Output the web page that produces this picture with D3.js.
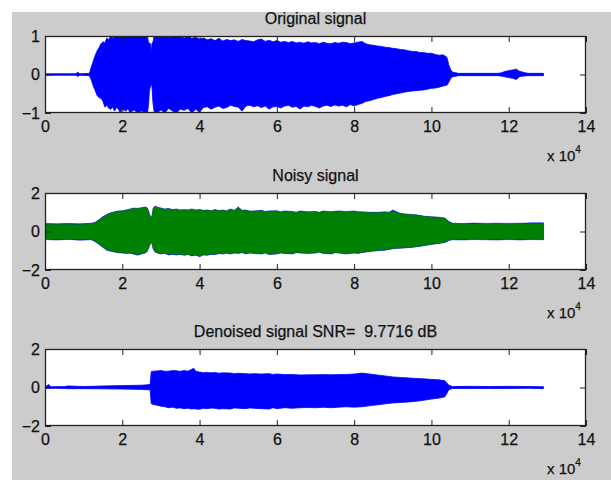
<!DOCTYPE html>
<html>
<head>
<meta charset="utf-8">
<script src="https://cdn.jsdelivr.net/npm/d3@7"></script>
<style>
  html, body { margin: 0; padding: 0; background: #ffffff; }
  svg { display: block; }
  text { font-family: "Liberation Sans", Arial, sans-serif; fill: #111111; stroke: #111111; stroke-width: 0.25px; }
</style>
</head>
<body>
<svg id="chart" width="611" height="480"></svg>
<script>
// ---------------- DATA (envelopes of the waveforms) ----------------
const xTickValues = [0, 20000, 40000, 60000, 80000, 100000, 120000, 140000];
const xTickLabels = ["0", "2", "4", "6", "8", "10", "12", "14"];
const yTicksOriginal = [-1, 0, 1];
const yTicksNoisy = [-2, 0, 2];
const yTicksDenoised = [-2, 0, 2];
const titles = ["Original signal", "Noisy signal", "Denoised signal SNR=  9.7716 dB"];

// Original signal envelope: [sample, upper, lower]
const originalEnvelope = [
  [0, .02, -.02], [8000, .02, -.02], [8500, .06, -.05], [9000, .02, -.02], [11500, .03, -.03],
  [12000, .2, -.15], [12500, .35, -.3], [13000, .5, -.42], [13500, .62, -.55], [14000, .7, -.6],
  [14500, .8, -.62], [15000, .85, -.7], [15500, .82, -.85], [16000, .95, -.8], [16500, .9, -.88],
  [17000, 1, -.9], [17500, .95, -.85], [18000, 1, -.95], [18500, 1, -.86], [19000, 1, -.9],
  [19500, 1, -1], [20000, 1, -.9], [21000, 1, -.95], [21500, 1, -.88], [22000, 1, -1],
  [23000, 1, -.92], [24000, 1, -1], [25000, 1, -.95], [26000, 1, -1], [26500, 1, -1],
  [26800, .82, -.8], [27000, .82, -.45], [27300, .8, -.3], [27500, .58, -.22], [27700, .82, -.35],
  [27900, .82, -.7], [28200, 1, -.95], [28500, 1, -1],
  [29000, 1.0, -1.0], [30000, .97, -.92], [31000, 1.0, -1.0], [32000, .96, -.88], [33000, 1.0, -.95],
  [34000, .98, -1.0], [35000, 1.0, -.9], [36000, .95, -.93], [37000, 1.0, -.88], [38000, .94, -1.0],
  [39000, .97, -.9], [40000, .92, -.98], [41000, .95, -.86], [42000, .9, -.84], [43000, .93, -.9],
  [44000, .88, -.85], [45000, .94, -.82], [46000, .87, -.88], [47000, .91, -.86], [48000, .88, -.8],
  [49000, .9, -.83], [50000, .86, -.85], [51000, .91, -.95], [52000, .88, -.82], [53000, .87, -.8],
  [54000, .85, -.84], [55000, .9, -.81], [56000, .92, -.86], [57000, .86, -.82], [58000, .89, -.9],
  [59000, .85, -.84], [60000, .88, -.83], [61000, .84, -.87], [62000, .86, -.82], [63000, .83, -.8],
  [64000, .86, -.85], [65000, .82, -.83], [66000, .84, -.9], [67000, .81, -.82], [68000, .85, -.84],
  [69000, .82, -.8], [70000, .83, -.83], [71000, .8, -.87], [72000, .84, -.82], [73000, .81, -.8],
  [74000, .8, -.83], [75000, .83, -.79], [76000, .81, -.82], [77000, .84, -.8], [78000, .83, -.84],
  [79000, .8, -.78], [80000, .82, -.82], [81000, .84, -.78], [82000, .86, -.75], [83000, .8, -.7],
  [84000, .77, -.68], [85000, .76, -.65], [86000, .74, -.62], [87000, .73, -.6], [88000, .71, -.57],
  [89000, .7, -.55], [90000, .68, -.52], [91000, .67, -.5], [92000, .65, -.48], [93000, .64, -.46],
  [94000, .62, -.44], [95000, .6, -.43], [96000, .6, -.42], [97000, .57, -.41], [98000, .57, -.4],
  [99000, .55, -.38], [100000, .55, -.36], [101000, .52, -.35], [102000, .5, -.33], [103000, .51, -.3],
  [104000, .45, -.28], [104500, .25, -.2], [105000, .12, -.1], [105500, .06, -.06], [107000, .03, -.03],
  [117000, .03, -.03], [118000, .04, -.04], [119000, .08, -.06], [120000, .1, -.08], [121000, .12, -.1],
  [122000, .14, -.13], [122500, .1, -.08], [123000, .08, -.05], [124000, .05, -.04], [125000, .03, -.03],
  [129000, .03, -.03]
];

// Noisy signal envelopes: [sample, greenUpper, greenLower, blueUpper, blueLower]
const noisyEnvelope = [
  [0, .38, -.38, .42, -.42], [3000, .36, -.4, .40, -.44], [6000, .38, -.38, .42, -.41], [9000, .37, -.4, .40, -.45],
  [12000, .4, -.4, .43, -.43], [13000, .45, -.5, .48, -.53], [14000, .6, -.65, .62, -.68], [15000, .75, -.8, .78, -.83],
  [16000, .85, -.95, .88, -.98], [17000, .95, -1.0, .97, -1.03], [18000, 1.0, -1.05, 1.03, -1.07], [19000, 1.05, -1.08, 1.07, -1.11],
  [20000, 1.05, -1.1, 1.08, -1.12], [21000, 1.1, -1.12, 1.12, -1.14], [22000, 1.15, -1.1, 1.17, -1.13], [23000, 1.2, -1.15, 1.22, -1.18],
  [24000, 1.18, -1.2, 1.2, -1.23], [25000, 1.22, -1.15, 1.24, -1.17], [26000, 1.25, -1.1, 1.27, -1.12], [26500, 1.2, -1.0, 1.22, -1.02],
  [27000, .9, -.75, .92, -.77], [27500, .65, -.5, .67, -.52], [27800, .9, -.7, .92, -.72], [28000, 1.2, -.9, 1.22, -.92],
  [28500, 1.3, -1.05, 1.32, -1.07], [29000, 1.25, -1.1, 1.27, -1.12], [30000, 1.2, -1.15, 1.22, -1.17], [31000, 1.15, -1.12, 1.17, -1.14],
  [32000, 1.18, -1.2, 1.2, -1.22], [33000, 1.12, -1.15, 1.14, -1.19], [34000, 1.15, -1.2, 1.17, -1.22], [35000, 1.1, -1.17, 1.12, -1.19],
  [36000, 1.12, -1.22, 1.14, -1.24], [37000, 1.1, -1.18, 1.12, -1.2], [38000, 1.15, -1.25, 1.17, -1.27], [39000, 1.1, -1.2, 1.12, -1.23],
  [40000, 1.12, -1.28, 1.14, -1.31], [41000, 1.08, -1.2, 1.1, -1.22], [42000, 1.1, -1.22, 1.12, -1.24], [43000, 1.06, -1.16, 1.08, -1.19],
  [44000, 1.12, -1.18, 1.14, -1.2], [45000, 1.07, -1.13, 1.09, -1.15], [46000, 1.1, -1.15, 1.12, -1.17], [47000, 1.06, -1.1, 1.08, -1.13],
  [48000, 1.15, -1.15, 1.17, -1.17], [49000, 1.08, -1.1, 1.1, -1.12], [50000, 1.25, -1.12, 1.27, -1.14], [51000, 1.08, -1.08, 1.1, -1.1],
  [52000, 1.1, -1.15, 1.12, -1.17], [53000, 1.04, -1.1, 1.06, -1.12], [54000, 1.05, -1.12, 1.07, -1.14], [56000, 1.08, -1.15, 1.1, -1.17],
  [57000, 1.02, -1.1, 1.04, -1.12], [58000, 1.05, -1.18, 1.07, -1.2], [60000, 1.06, -1.15, 1.08, -1.17], [61000, 1.0, -1.1, 1.02, -1.12],
  [62000, 1.05, -1.12, 1.07, -1.14], [64000, 1.02, -1.15, 1.04, -1.17], [65000, .98, -1.08, 1.0, -1.1], [66000, 1.05, -1.1, 1.07, -1.12],
  [68000, 1.0, -1.12, 1.02, -1.14], [70000, 1.02, -1.1, 1.04, -1.12], [71000, .98, -1.06, 1.0, -1.08], [72000, 1.05, -1.12, 1.07, -1.14],
  [74000, 1.0, -1.15, 1.02, -1.17], [75000, 1.03, -1.08, 1.05, -1.1], [76000, 1.05, -1.1, 1.07, -1.12], [78000, 1.02, -1.15, 1.04, -1.17],
  [80000, 1.05, -1.1, 1.07, -1.12], [81000, 1.0, -1.12, 1.02, -1.14], [82000, 1.0, -1.08, 1.02, -1.1], [84000, .98, -1.02, 1.0, -1.04],
  [86000, .98, -.98, 1.0, -1.0], [88000, 1.0, -.95, 1.02, -.97], [89000, .98, -.92, 1.0, -.94], [90000, 1.05, -.88, 1.12, -.9],
  [92000, .92, -.85, .94, -.87], [94000, .88, -.82, .9, -.84], [96000, .85, -.78, .87, -.8], [98000, .78, -.72, .8, -.74],
  [100000, .75, -.65, .77, -.67], [102000, .72, -.6, .74, -.62], [103500, .68, -.55, .7, -.57], [104500, .5, -.45, .52, -.47],
  [105500, .4, -.4, .43, -.43], [108000, .38, -.4, .41, -.44], [111000, .4, -.38, .44, -.42], [114000, .38, -.4, .42, -.43],
  [117000, .4, -.4, .43, -.44], [120000, .38, -.38, .42, -.42], [123000, .4, -.4, .43, -.44], [126000, .42, -.38, .45, -.42],
  [129000, .42, -.4, .45, -.43]
];

// Denoised signal envelope: [sample, upper, lower]
const denoisedEnvelope = [
  [0, .04, -.04], [1000, .15, -.05], [1500, .04, -.04], [5000, .05, -.05], [6000, .08, -.06], [10000, .05, -.06],
  [15000, .08, -.07], [20000, .1, -.08], [25000, .12, -.1], [27200, .15, -.12], [27500, .83, -.85], [28000, .85, -.88],
  [29000, .86, -.92], [30000, .88, -.97], [31000, .84, -1.0], [32000, .85, -1.05], [33000, .88, -1.02], [34000, .87, -1.08],
  [35000, .84, -1.06], [36000, .88, -1.1], [37000, .85, -1.08], [38000, .95, -1.12], [38500, 1.0, -1.1], [39000, .85, -1.12],
  [40000, .8, -1.13], [41000, .77, -1.08], [42000, .78, -1.1], [43000, .76, -1.07], [44000, .78, -1.08], [45000, .74, -1.12],
  [46000, .76, -1.1], [48000, .75, -1.12], [49000, .72, -1.06], [50000, .74, -1.08], [52000, .72, -1.1], [53000, .7, -1.06],
  [54000, .72, -1.08], [56000, .7, -1.1], [58000, .72, -1.12], [59000, .68, -1.05], [60000, .7, -1.1], [62000, .67, -1.05],
  [64000, .68, -1.08], [66000, .65, -1.05], [68000, .66, -1.04], [70000, .66, -1.05], [72000, .67, -1.03], [74000, .66, -1.05],
  [76000, .67, -1.02], [78000, .68, -1.0], [80000, .7, -1.02], [82000, .75, -1.0], [84000, .7, -.95], [86000, .65, -.9],
  [88000, .6, -.85], [90000, .55, -.8], [92000, .52, -.78], [94000, .5, -.75], [96000, .47, -.72], [98000, .45, -.66],
  [100000, .42, -.6], [102000, .4, -.55], [103500, .35, -.48], [104500, .12, -.12], [105500, .05, -.05], [110000, .06, -.05],
  [115000, .05, -.05], [120000, .06, -.05], [125000, .05, -.04], [129000, .04, -.06]
];

// ---------------- DRAWING ----------------
const svg = d3.select("#chart");
const W = 611, H = 480;
const FONT = 16;

svg.append("rect").attr("x", 12).attr("y", 12).attr("width", W - 12).attr("height", H - 12).attr("fill", "#cccccc");

const left = 45, right = 586;
const panels = [
  { top: 36, bottom: 113, yDomain: [-1, 1], yTicks: yTicksOriginal, title: titles[0],
    layers: [{ data: originalEnvelope, up: 1, lo: 2, color: "#0000ff", sw: 0.8 }] },
  { top: 193, bottom: 270, yDomain: [-2, 2], yTicks: yTicksNoisy, title: titles[1],
    layers: [{ data: noisyEnvelope, up: 3, lo: 4, color: "#0000ff", sw: 0.5 },
             { data: noisyEnvelope, up: 1, lo: 2, color: "#008000", sw: 0.6 }] },
  { top: 349, bottom: 426, yDomain: [-2, 2], yTicks: yTicksDenoised, title: titles[2],
    layers: [{ data: denoisedEnvelope, up: 1, lo: 2, color: "#0000ff", sw: 0.8 }] }
];

const x = d3.scaleLinear().domain([0, 140000]).range([left, right]);

panels.forEach((p, i) => {
  const y = d3.scaleLinear().domain(p.yDomain).range([p.bottom, p.top]);
  const g = svg.append("g");

  g.append("rect").attr("x", left).attr("y", p.top)
    .attr("width", right - left).attr("height", p.bottom - p.top).attr("fill", "#ffffff");

  const clipId = "clip" + i;
  svg.append("clipPath").attr("id", clipId).append("rect")
    .attr("x", left).attr("y", p.top).attr("width", right - left).attr("height", p.bottom - p.top);

  p.layers.forEach(L => {
    const area = d3.area().x(d => x(d[0])).y0(d => y(d[L.lo])).y1(d => y(d[L.up])).curve(d3.curveLinear);
    g.append("path").datum(L.data).attr("d", area)
      .attr("fill", L.color).attr("stroke", L.color).attr("stroke-width", L.sw)
      .attr("clip-path", `url(#${clipId})`);
  });

  const bottomAxis = d3.axisBottom(x).tickValues(xTickValues)
    .tickFormat((d, k) => xTickLabels[k]).tickSize(-6).tickPadding(8);
  const topAxis = d3.axisTop(x).tickValues(xTickValues).tickFormat("").tickSize(-6);
  const leftAxis = d3.axisLeft(y).tickValues(p.yTicks).tickFormat(d3.format("d")).tickSize(-6).tickPadding(5);
  const rightAxis = d3.axisRight(y).tickValues(p.yTicks).tickFormat("").tickSize(-6);

  const styleAxis = sel => {
    sel.select(".domain").remove();
    sel.selectAll("line").attr("stroke", "#222222").attr("stroke-width", 1);
    sel.selectAll("text").attr("font-size", FONT).attr("fill", "#111111")
      .attr("font-family", '"Liberation Sans", Arial, sans-serif');
  };
  g.append("g").attr("transform", `translate(0,${p.bottom})`).call(bottomAxis).call(styleAxis);
  g.append("g").attr("transform", `translate(0,${p.top})`).call(topAxis).call(styleAxis);
  g.append("g").attr("transform", `translate(${left},0)`).call(leftAxis).call(styleAxis);
  g.append("g").attr("transform", `translate(${right},0)`).call(rightAxis).call(styleAxis);

  g.append("rect").attr("x", left + 0.5).attr("y", p.top + 0.5)
    .attr("width", right - left - 1).attr("height", p.bottom - p.top - 1)
    .attr("fill", "none").attr("stroke", "#222222").attr("stroke-width", 1.3);

  g.append("text").attr("x", (left + right) / 2).attr("y", p.top - 12)
    .attr("text-anchor", "middle").attr("font-size", FONT)
    .style("white-space", "pre").text(p.title);

  const ex = g.append("text").attr("x", 547).attr("y", p.bottom + 48).attr("font-size", 15);
  ex.append("tspan").text("x 10");
  ex.append("tspan").attr("font-size", 10).attr("dy", -8).text("4");
});
</script>
</body>
</html>
